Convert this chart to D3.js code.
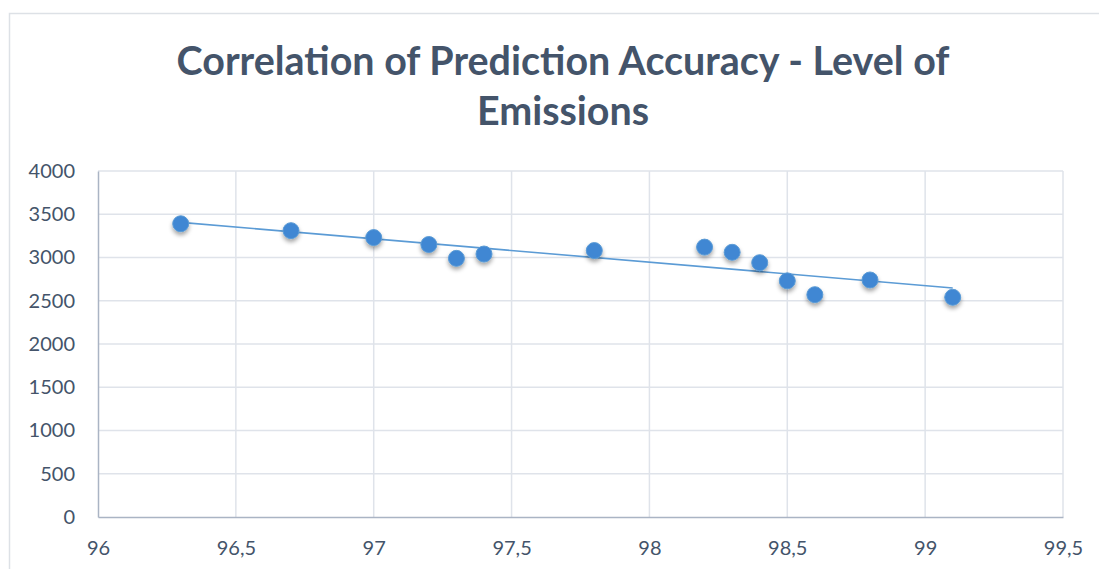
<!DOCTYPE html>
<html>
<head>
<meta charset="utf-8">
<script src="https://cdn.jsdelivr.net/npm/d3@7"></script>
<style>
  html, body { margin: 0; padding: 0; background: #ffffff; }
  svg { display: block; }
</style>
</head>
<body>
<svg id="chart" width="1099" height="569"></svg>
<script>
// ---- data ----
const titleLines = ["Correlation of Prediction Accuracy - Level of", "Emissions"];
const accuracy = [96.3, 96.7, 97.0, 97.2, 97.3, 97.4, 97.8, 98.2, 98.3, 98.4, 98.5, 98.6, 98.8, 99.1];
const emissions = [3390, 3310, 3230, 3150, 2990, 3040, 3080, 3120, 3060, 2940, 2730, 2570, 2740, 2540];
const xTicks = [96, 96.5, 97, 97.5, 98, 98.5, 99, 99.5];
const yTicks = [0, 500, 1000, 1500, 2000, 2500, 3000, 3500, 4000];

const svg = d3.select("#chart");
const W = 1099, H = 569;
const plot = { left: 98, right: 1063, top: 171, bottom: 517 };
const slate = "#44546a";
const fontStack = "Lato, 'Open Sans', 'DejaVu Sans', sans-serif";

// outer chart border
svg.append("path")
  .attr("d", `M9.5,${H} V13.5 H${W}`)
  .attr("fill", "none").attr("stroke", "#dde1e6").attr("stroke-width", 1.5);

const x = d3.scaleLinear().domain([96, 99.5]).range([plot.left, plot.right]);
const y = d3.scaleLinear().domain([0, 4000]).range([plot.bottom, plot.top]);

// shadow filter
const defs = svg.append("defs");
const f = defs.append("filter").attr("id", "shadow").attr("x", "-50%").attr("y", "-50%").attr("width", "200%").attr("height", "220%");
f.append("feDropShadow").attr("dx", 0).attr("dy", 3).attr("stdDeviation", 2.2)
  .attr("flood-color", "#000").attr("flood-opacity", 0.35);

// gridlines
const grid = svg.append("g");
grid.selectAll("line.h").data(yTicks.filter(d => d > 0)).join("line")
  .attr("x1", plot.left).attr("x2", plot.right)
  .attr("y1", d => y(d)).attr("y2", d => y(d))
  .attr("stroke", "#dfe3ea").attr("stroke-width", 1.5);
grid.selectAll("line.v").data(xTicks.filter(d => d > 96)).join("line")
  .attr("x1", d => x(d)).attr("x2", d => x(d))
  .attr("y1", plot.top).attr("y2", plot.bottom)
  .attr("stroke", "#dfe3ea").attr("stroke-width", 1.5);

// axes via d3
const fmt = d => String(d).replace(".", ",");
const xAxis = svg.append("g").attr("transform", `translate(0,${plot.bottom})`)
  .call(d3.axisBottom(x).tickValues(xTicks).tickFormat(fmt).tickSize(0).tickPadding(24));
const yAxis = svg.append("g").attr("transform", `translate(${plot.left},0)`)
  .call(d3.axisLeft(y).tickValues(yTicks).tickFormat(d => d).tickSize(0).tickPadding(23));
[xAxis, yAxis].forEach(a => {
  a.select(".domain").attr("stroke", "#aab4c4").attr("stroke-width", 1.5);
  a.selectAll("text").attr("fill", slate).attr("font-family", fontStack).attr("font-size", 20);
});

// trendline (least squares from the data)
const n = accuracy.length;
const mx = d3.mean(accuracy), my = d3.mean(emissions);
let sxy = 0, sxx = 0;
for (let i = 0; i < n; i++) { sxy += (accuracy[i] - mx) * (emissions[i] - my); sxx += (accuracy[i] - mx) ** 2; }
const slope = sxy / sxx, icpt = my - slope * mx;
const xmin = d3.min(accuracy), xmax = d3.max(accuracy);
svg.append("line")
  .attr("x1", x(xmin)).attr("y1", y(icpt + slope * xmin))
  .attr("x2", x(xmax)).attr("y2", y(icpt + slope * xmax))
  .attr("stroke", "#5b9bd5").attr("stroke-width", 1.6);

// points
svg.append("g").selectAll("circle").data(accuracy.map((a, i) => [a, emissions[i]])).join("circle")
  .attr("cx", d => x(d[0])).attr("cy", d => y(d[1])).attr("r", 8)
  .attr("fill", "#3f87d3").attr("stroke", "#5b9bd5").attr("stroke-width", 1)
  .attr("filter", "url(#shadow)");

// title
const title = svg.append("g");
const t1 = title.append("text").attr("x", 563).attr("y", 75).attr("text-anchor", "middle")
  .attr("font-family", fontStack).attr("font-weight", "bold").attr("fill", slate)
  .attr("font-size", 38).text(titleLines[0]);
const w1 = t1.node().getComputedTextLength();
const fs = 38 * 773 / w1;
t1.attr("font-size", fs);
title.append("text").attr("x", 563).attr("y", 125).attr("text-anchor", "middle")
  .attr("font-family", fontStack).attr("font-weight", "bold").attr("fill", slate)
  .attr("font-size", fs).text(titleLines[1]);
</script>
</body>
</html>
